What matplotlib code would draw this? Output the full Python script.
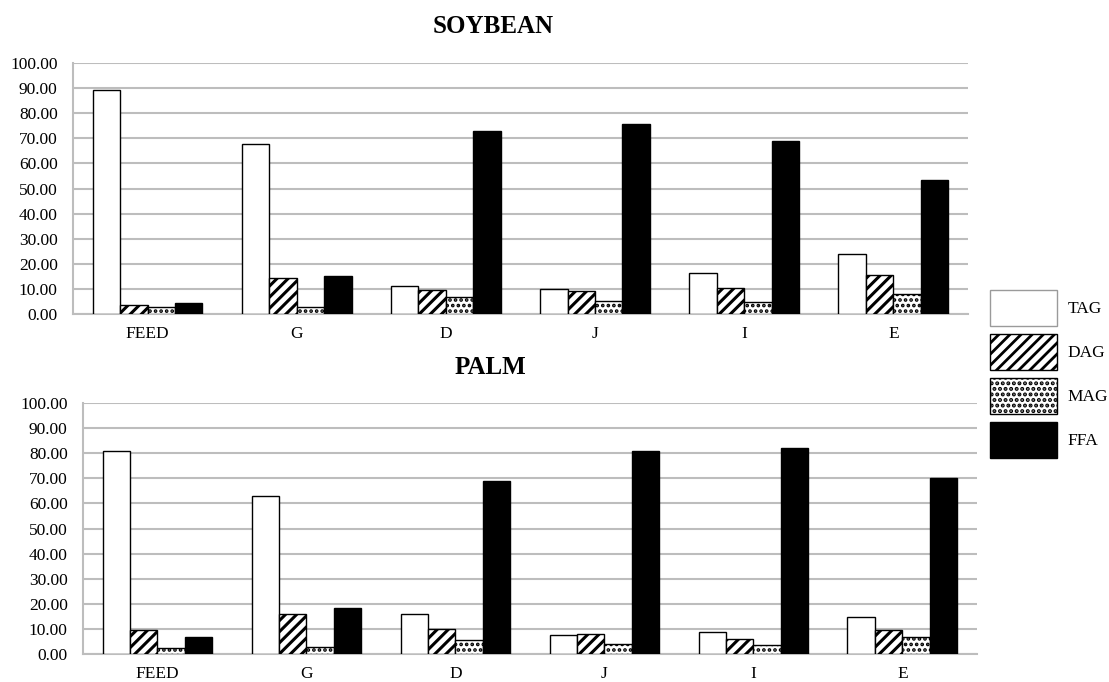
import numpy as np
import matplotlib
matplotlib.use('Agg')
import matplotlib.pyplot as plt
from matplotlib.patches import Patch

plt.rcParams['font.family'] = ['Liberation Serif', 'DejaVu Serif']
plt.rcParams['hatch.linewidth'] = 2.0

# Data
samples = ['FEED', 'G', 'D', 'J', 'I', 'E']
series = ['TAG', 'DAG', 'MAG', 'FFA']

soy_tag = [89.4, 67.6, 11.3, 10.1, 16.3, 23.8]
soy_dag = [3.6, 14.5, 9.7, 9.0, 10.5, 15.4]
soy_mag = [2.8, 2.8, 6.6, 5.2, 4.8, 7.8]
soy_ffa = [4.5, 15.3, 72.8, 75.7, 68.8, 53.5]

palm_tag = [81.0, 62.9, 15.8, 7.6, 8.8, 14.7]
palm_dag = [9.7, 15.8, 10.0, 8.0, 6.1, 9.5]
palm_mag = [2.5, 3.0, 5.6, 3.9, 3.6, 6.8]
palm_ffa = [6.8, 18.5, 69.0, 80.9, 82.0, 70.0]

yticks = np.arange(0, 101, 10)

# facecolor, hatch, hatch linewidth
styles = [
    ('white', None, 2.0),
    ('white', '///', 2.2),
    ('white', '...', 1.8),
    ('black', None, 2.0),
]

fig = plt.figure(figsize=(11.09, 6.82), dpi=100)
ax_top = fig.add_axes([0.0658, 0.5396, 0.807, 0.368])
ax_bot = fig.add_axes([0.0748, 0.041, 0.806, 0.368])


def draw(ax, data):
    x = np.arange(len(samples))
    width = 0.184
    for i, vals in enumerate(data):
        fc, hatch, hlw = styles[i]
        with plt.rc_context({'hatch.linewidth': hlw}):
            ax.bar(x + (i - 1.5) * width, vals, width, color=fc,
                   edgecolor='black', linewidth=1.0, hatch=hatch, zorder=3)
    ax.set_xlim(-0.5, len(samples) - 0.5)
    ax.set_ylim(0, 100)
    ax.set_yticks(yticks)
    ax.set_yticklabels(['{:.2f}'.format(v) for v in yticks], fontsize=12.5)
    ax.set_xticks(x)
    ax.set_xticklabels(samples, fontsize=12.5)
    ax.tick_params(axis='y', length=0, pad=11)
    ax.tick_params(axis='x', length=0, pad=8.5)
    ax.grid(axis='y', color='#bdbdbd', linewidth=1.5, zorder=0)
    for s in ['top', 'right']:
        ax.spines[s].set_visible(False)
    for s in ['left', 'bottom']:
        ax.spines[s].set_color('#bdbdbd')
        ax.spines[s].set_linewidth(1.5)


draw(ax_top, [soy_tag, soy_dag, soy_mag, soy_ffa])
draw(ax_bot, [palm_tag, palm_dag, palm_mag, palm_ffa])

fig.text(493 / 1109, 0.9516, 'SOYBEAN', ha='center', va='baseline',
         fontsize=18, fontweight='bold')
fig.text(490 / 1109, 0.4516, 'PALM', ha='center', va='baseline',
         fontsize=18, fontweight='bold')

handles = []
for fc, hatch, hlw in styles:
    with plt.rc_context({'hatch.linewidth': hlw}):
        ec = '#9a9a9a' if fc == 'white' and hatch is None else 'black'
        handles.append(Patch(facecolor=fc, edgecolor=ec, hatch=hatch, linewidth=1.0))
fig.legend(handles, series, loc='center left', bbox_to_anchor=(0.8786, 0.452),
           frameon=False, fontsize=12.5, handlelength=3.85, handleheight=2.81,
           labelspacing=0.46, handletextpad=0.63)

fig.savefig('out.png', dpi=100)
